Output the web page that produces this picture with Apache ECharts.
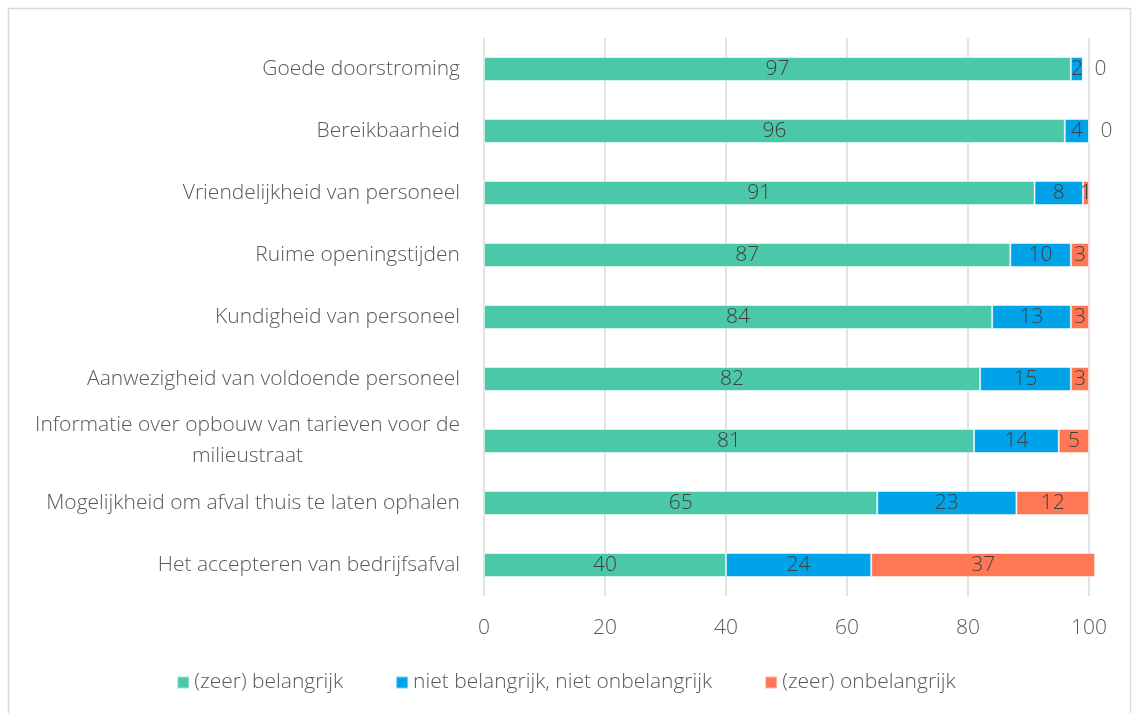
<!DOCTYPE html>
<html>
<head>
<meta charset="utf-8">
<script src="https://cdn.jsdelivr.net/npm/echarts@6/dist/echarts.min.js"></script>
<style>
  html, body { margin: 0; padding: 0; background: #fff; }
  #main { width: 1132px; height: 713px; }
</style>
</head>
<body>
<div id="main"></div>
<script>
var categories = [
  'Goede doorstroming',
  'Bereikbaarheid',
  'Vriendelijkheid van personeel',
  'Ruime openingstijden',
  'Kundigheid van personeel',
  'Aanwezigheid van voldoende personeel',
  'Informatie over opbouw van tarieven voor de\nmilieustraat',
  'Mogelijkheid om afval thuis te laten ophalen',
  'Het accepteren van bedrijfsafval'
];
var belangrijk = [97, 96, 91, 87, 84, 82, 81, 65, 40];
var neutraal = [2, 4, 8, 10, 13, 15, 14, 23, 24];
var onbelangrijk = [0, 0, 1, 3, 3, 3, 5, 12, 37];
var seriesNames = ['(zeer) belangrijk', 'niet belangrijk, niet onbelangrijk', '(zeer) onbelangrijk'];
var xTicks = [0, 20, 40, 60, 80, 100];

var fontName = 'Open Sans';
var textColor = '#595959';
var fs = 21;

// nul-waarden krijgen hun label rechts naast de balk
function toItems(arr) {
  return arr.map(function (v) {
    if (v === 0) {
      return { value: v, label: { position: 'right', distance: 11, color: textColor } };
    }
    return v;
  });
}

function barSeries(name, data, color) {
  return {
    name: name,
    type: 'bar',
    stack: 'totaal',
    barWidth: 24,
    clip: false,
    data: data,
    itemStyle: { color: color, borderColor: 'rgba(255,255,255,0.5)', borderWidth: 1 },
    label: {
      show: true,
      position: 'inside',
      color: '#404040',
      fontFamily: fontName,
      fontWeight: 300,
      fontSize: fs
    }
  };
}

var myChart = echarts.init(document.getElementById('main'));
var option = {
  animation: false,
  textStyle: { fontFamily: fontName },
  graphic: [{
    type: 'rect',
    shape: { x: 8.5, y: 8.5, width: 1122, height: 720 },
    style: { fill: 'none', stroke: '#d9d9d9', lineWidth: 1.5 },
    silent: true
  }],
  grid: { left: 484, right: 43, top: 38, bottom: 117 },
  legend: {
    bottom: 15,
    left: 'center',
    icon: 'rect',
    itemWidth: 12,
    itemHeight: 12,
    itemGap: 52,
    textStyle: { color: textColor, fontSize: fs, fontWeight: 300, fontFamily: fontName },
    data: seriesNames
  },
  xAxis: {
    type: 'value',
    min: 0,
    max: 100,
    interval: 20,
    axisLine: { show: false },
    axisTick: { show: false },
    splitLine: { lineStyle: { color: '#d9d9d9', width: 1.5 } },
    axisLabel: {
      color: textColor,
      fontSize: fs,
      fontWeight: 300,
      margin: 22,
      formatter: function (v) { return xTicks.indexOf(v) >= 0 ? String(v) : ''; }
    }
  },
  yAxis: {
    type: 'category',
    inverse: true,
    data: categories,
    axisLine: { show: false },
    axisTick: { show: false },
    axisLabel: {
      margin: 24,
      color: textColor,
      fontSize: fs,
      fontWeight: 300,
      lineHeight: 31,
      formatter: function (v) {
        return v.split('\n').map(function (s) { return '{c|' + s + '}'; }).join('\n');
      },
      rich: {
        c: { align: 'center', color: textColor, fontSize: fs, fontWeight: 300, lineHeight: 31, fontFamily: fontName }
      }
    }
  },
  series: [
    barSeries(seriesNames[0], belangrijk, '#4bc8a8'),
    barSeries(seriesNames[1], neutraal, '#00a2e8'),
    barSeries(seriesNames[2], toItems(onbelangrijk), '#ff7755')
  ]
};
myChart.setOption(option);
window.addEventListener('resize', function () {
  myChart.resize();
});
</script>
</body>
</html>
